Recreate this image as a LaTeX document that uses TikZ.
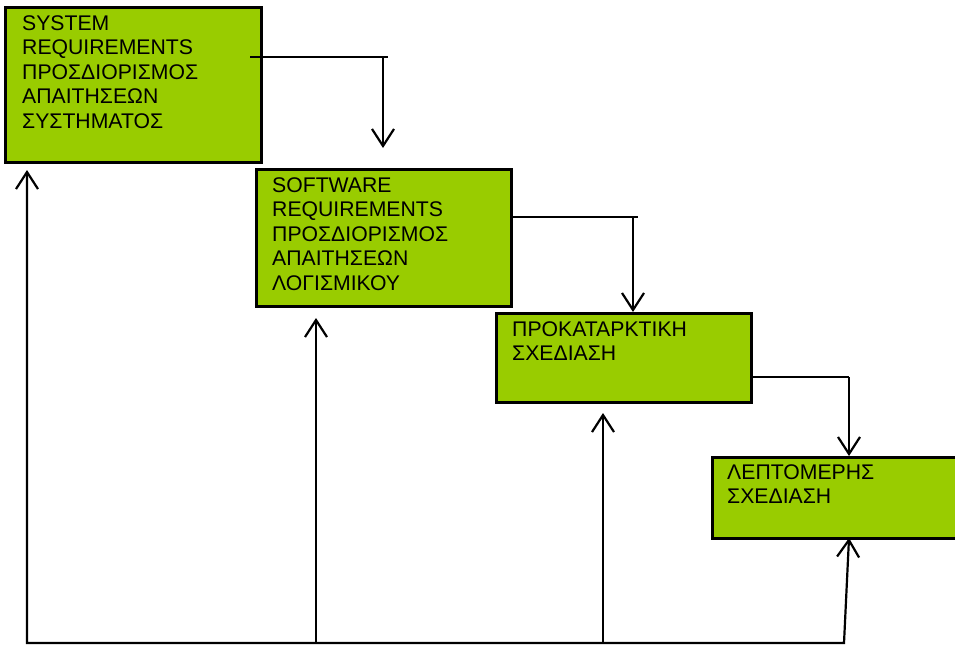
\documentclass[tikz,border=0pt]{standalone}
\usepackage{fontspec}
\setmainfont{Liberation Sans}
\usetikzlibrary{arrows.meta,calc}
\definecolor{stagegreen}{HTML}{99CC00}
\begin{document}
\begin{tikzpicture}[x=1pt,y=-1pt,
  stagebox/.style={draw=black,line width=3pt,fill=stagegreen,anchor=north west,
    inner sep=0pt,outer sep=0pt},
  stagetext/.style={anchor=north west,align=left,inner sep=0pt,
    font=\fontsize{21.2}{24.6}\selectfont},
  link/.style={draw=black,line width=2.2pt},
  >={Straight Barb[length=17pt,width=22pt]}]
\useasboundingbox (0,0) rectangle (955,645);
\clip (0,0) rectangle (955,645);

% stages of the waterfall
\node[stagebox,minimum width=256pt,minimum height=155pt] (sys) at (5,7) {};
\node[stagebox,minimum width=255pt,minimum height=137pt] (sw)  at (256,169) {};
\node[stagebox,minimum width=255pt,minimum height=89pt]  (pre) at (496,313) {};
\node[stagebox,minimum width=260pt,minimum height=81pt]  (det) at (712,457) {};

\node[stagetext] (systxt) at ($(sys.north west)+(17,8)$)
  {SYSTEM\\REQUIREMENTS\\ΠΡΟΣΔΙΟΡΙΣΜΟΣ\\ΑΠΑΙΤΗΣΕΩΝ\\ΣΥΣΤΗΜΑΤΟΣ};
\node[stagetext] (swtxt) at ($(sw.north west)+(16,8)$)
  {SOFTWARE\\REQUIREMENTS\\ΠΡΟΣΔΙΟΡΙΣΜΟΣ\\ΑΠΑΙΤΗΣΕΩΝ\\ΛΟΓΙΣΜΙΚΟΥ};
\node[stagetext] (pretxt) at ($(pre.north west)+(16,8)$)
  {ΠΡΟΚΑΤΑΡΚΤΙΚΗ\\ΣΧΕΔΙΑΣΗ};
\node[stagetext] (dettxt) at ($(det.north west)+(15,7)$)
  {ΛΕΠΤΟΜΕΡΗΣ\\ΣΧΕΔΙΑΣΗ};

% forward flow: each stage hands over to the next
\coordinate (f1) at ($(sys.north east)+(-11,50)$);
\coordinate (f1end) at ($(f1)+(138,0)$);
\coordinate (f1down) at ($(f1)+(133,0)$);
\draw[link] (f1) -- (f1end);
\draw[link,->,shorten >=21pt] (f1down) -- (f1down |- sw.north);

\coordinate (f2) at ($(sw.north east)+(0,48)$);
\coordinate (f2end) at ($(f2)+(127,0)$);
\coordinate (f2down) at ($(f2)+(122,0)$);
\draw[link] (f2) -- (f2end);
\draw[link,->,shorten >=1pt] (f2down) -- (f2down |- pre.north);

\coordinate (f3) at ($(pre.north east)+(0,64)$);
\coordinate (f3down) at ($(f3)+(98,0)$);
\draw[link] (f3) -- (f3down);
\draw[link,->,shorten >=1pt] (f3down) -- (f3down |- det.north);

% feedback from the common return line to every stage
\coordinate (r0) at (27,643);
\coordinate (r1) at (316,643);
\coordinate (r2) at (603,643);
\coordinate (r3) at (844,643);
\coordinate (r3top) at ($(det.south west)+(137,0)$);
\draw[link,<->,shorten <=8pt] (sys.south -| r0) -- (r0) -- (r3) -- (r3top);
\draw[link,->,shorten >=12pt] (r1) -- (r1 |- sw.south);
\draw[link,->,shorten >=11pt] (r2) -- (r2 |- pre.south);
\end{tikzpicture}
\end{document}
